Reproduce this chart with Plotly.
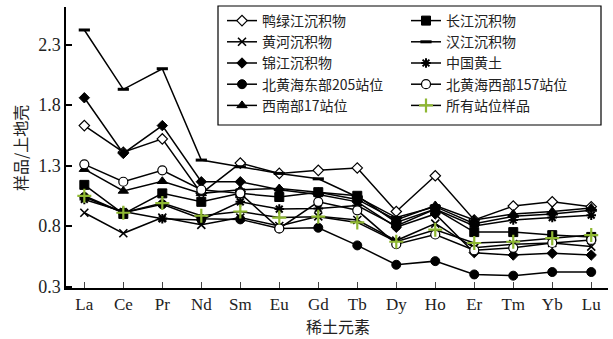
import plotly.graph_objects as go

elements = ["La", "Ce", "Pr", "Nd", "Sm", "Eu", "Gd", "Tb", "Dy", "Ho", "Er", "Tm", "Yb", "Lu"]

yalu = [1.63, 1.41, 1.52, 1.07, 1.32, 1.235, 1.26, 1.28, 0.92, 1.215, 0.85, 0.965, 1.00, 0.96]
changjiang = [1.14, 0.90, 1.07, 1.00, 1.07, 1.04, 1.08, 1.05, 0.83, 0.94, 0.75, 0.75, 0.725, 0.71]
huanghe = [0.91, 0.74, 0.87, 0.81, 0.87, 0.80, 0.88, 0.85, 0.68, 0.82, 0.62, 0.65, 0.66, 0.63]
hanjiang = [2.42, 1.93, 2.10, 1.345, 1.29, 1.235, 1.19, 1.04, 0.87, 0.96, 0.82, 0.88, 0.90, 0.93]
jinjiang = [1.86, 1.40, 1.63, 1.166, 1.166, 1.10, 1.06, 1.00, 0.79, 0.90, 0.58, 0.56, 0.575, 0.56]
loess = [1.02, 0.92, 0.86, 0.85, 1.00, 0.94, 0.945, 0.97, 0.80, 0.94, 0.80, 0.85, 0.87, 0.89]
east205 = [1.04, 0.91, 0.98, 0.86, 0.855, 0.78, 0.786, 0.64, 0.48, 0.51, 0.40, 0.39, 0.42, 0.42]
west157 = [1.31, 1.166, 1.26, 1.10, 1.07, 0.78, 1.00, 0.93, 0.65, 0.73, 0.60, 0.62, 0.66, 0.685]
sw17 = [1.27, 1.09, 1.17, 1.07, 1.10, 1.11, 1.08, 1.02, 0.85, 0.97, 0.85, 0.90, 0.92, 0.95]
allst = [1.05, 0.91, 0.99, 0.885, 0.92, 0.87, 0.877, 0.83, 0.67, 0.77, 0.66, 0.67, 0.70, 0.725]

y_ticks = [0.3, 0.8, 1.3, 1.8, 2.3]

GREEN = "#8fb832"
CJK = "Noto Sans CJK SC"
SERIF = "Liberation Serif"

series = [
    # name, values, symbol, fill, outline, outline width, size, legend
    ("鸭绿江沉积物", yalu, "diamond", "white", "black", 1.2, 8, "legend"),
    ("黄河沉积物", huanghe, "x-thin-open", "black", "black", 1.6, 8, "legend"),
    ("锦江沉积物", jinjiang, "diamond", "black", "black", 1, 8, "legend"),
    ("北黄海东部205站位", east205, "circle", "black", "black", 1, 9, "legend"),
    ("西南部17站位", sw17, "triangle-up", "black", "black", 1, 9, "legend"),
    ("长江沉积物", changjiang, "square", "black", "black", 1, 9, "legend2"),
    ("汉江沉积物", hanjiang, "line-ew-open", "black", "black", 3, 8, "legend2"),
    ("中国黄土", loess, "asterisk-open", "black", "black", 2, 8, "legend2"),
    ("北黄海西部157站位", west157, "circle", "white", "black", 1.2, 9, "legend2"),
    ("所有站位样品", allst, "cross-thin-open", GREEN, GREEN, 2.2, 10, "legend2"),
]

fig = go.Figure()
for name, vals, sym, fill, outl, lw, size, leg in series:
    fig.add_trace(go.Scatter(
        x=elements, y=vals, name=name, mode="lines+markers",
        line=dict(color="black", width=1.5),
        marker=dict(symbol=sym, color=fill, size=size,
                    line=dict(color=outl, width=lw)),
        legend=leg,
    ))

# plot area in pixels: x 66..608, y 7..288
W, H = 613, 339
L, R, T, B = 66, 5, 7, 51
pw = W - L - R
ph = H - T - B

def px_x(p):
    return (p - L) / pw

def px_y(p):
    return 1 - (p - T) / ph

legend_common = dict(
    bgcolor="rgba(0,0,0,0)", borderwidth=0,
    font=dict(family=CJK, size=14, color="#222"),
    yanchor="top", xanchor="left", itemwidth=30,
    tracegroupgap=0,
)

fig.update_layout(
    width=W, height=H,
    margin=dict(l=L, r=R, t=T, b=B),
    paper_bgcolor="white", plot_bgcolor="white",
    showlegend=True,
    legend=dict(x=px_x(222), y=px_y(5), **legend_common),
    legend2=dict(x=px_x(406), y=px_y(5), **legend_common),
    xaxis=dict(
        type="category", range=[-0.47, 13.43],
        showline=True, linecolor="black", linewidth=1.5,
        ticks="inside", ticklen=6, tickcolor="#444", tickwidth=1,
        showgrid=False, zeroline=False,
        tickfont=dict(family=SERIF, size=17, color="#222"),
    ),
    yaxis=dict(
        range=[0.288, 2.61], tickvals=y_ticks,
        ticktext=[f"{v:.1f}" for v in y_ticks],
        showline=True, linecolor="black", linewidth=1.5,
        ticks="inside", ticklen=6, tickcolor="black", tickwidth=1.5,
        showgrid=False, zeroline=False,
        tickfont=dict(family=SERIF, size=18, color="#222"),
    ),
    shapes=[dict(type="rect", xref="paper", yref="paper",
                 x0=px_x(218), x1=px_x(601), y0=px_y(125), y1=px_y(6),
                 line=dict(color="black", width=1.2), fillcolor="rgba(0,0,0,0)")],
    annotations=[
        dict(text="样品/上地壳", xref="paper", yref="paper",
             x=px_x(20), y=px_y(148), textangle=-90, showarrow=False,
             font=dict(family=CJK, size=16, color="#222"),
             xanchor="center", yanchor="middle"),
        dict(text="稀土元素", xref="paper", yref="paper",
             x=px_x(338), y=px_y(326), showarrow=False,
             font=dict(family=CJK, size=16, color="#222"),
             xanchor="center", yanchor="middle"),
    ],
)

fig.write_html("out.html",
               config={"displayModeBar": False},
               post_script="document.body.style.margin='0px';document.body.style.padding='0px';")
